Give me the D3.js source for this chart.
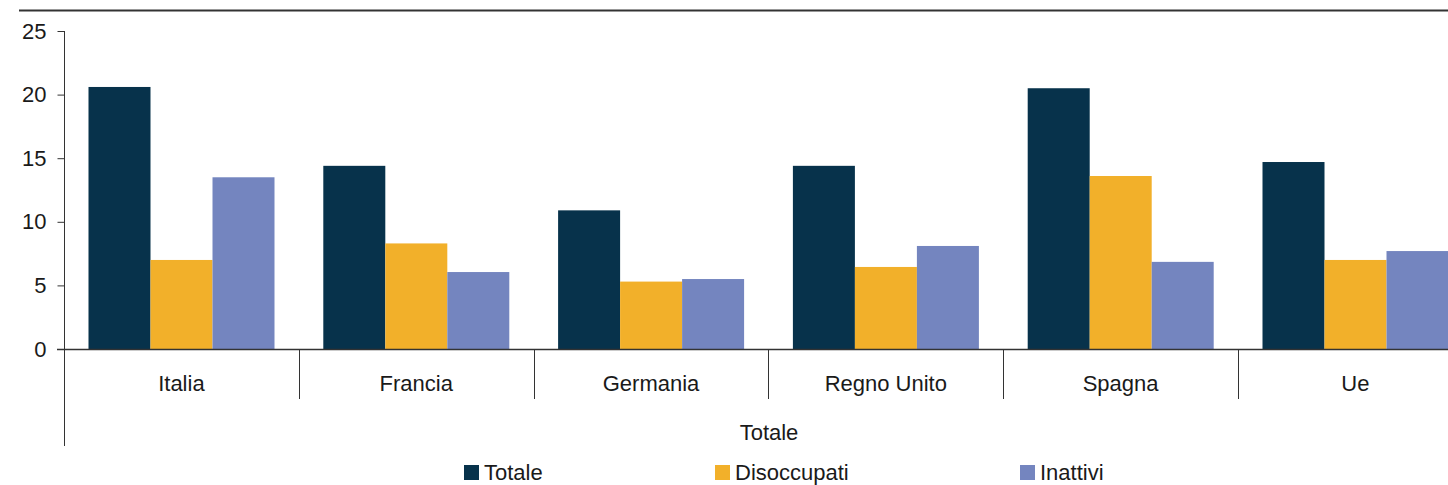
<!DOCTYPE html>
<html>
<head>
<meta charset="utf-8">
<script src="https://cdn.jsdelivr.net/npm/d3@7"></script>
<style>
  body { margin: 0; background: #fff; }
  svg { display: block; font-family: "Liberation Sans", Arial, sans-serif; }
  text { fill: #1a1a1a; }
</style>
</head>
<body>
<svg width="1448" height="485"></svg>
<script>
const countries = ["Italia", "Francia", "Germania", "Regno Unito", "Spagna", "Ue"];
const series = ["Totale", "Disoccupati", "Inattivi"];
const totale = [20.6, 14.4, 10.9, 14.4, 20.5, 14.7];
const disoccupati = [7.0, 8.3, 5.3, 6.45, 13.6, 7.0];
const inattivi = [13.5, 6.05, 5.5, 8.1, 6.85, 7.7];
const yTicks = [0, 5, 10, 15, 20, 25];
const colors = ["#07324B", "#F2B02A", "#7485BF"];

const values = [totale, disoccupati, inattivi];
const data = countries.map((c, i) => ({
  country: c,
  vals: series.map((s, j) => ({ key: s, value: values[j][i] }))
}));

const svg = d3.select("svg");

// top rule
svg.append("line")
  .attr("x1", 19).attr("x2", 1448)
  .attr("y1", 10.5).attr("y2", 10.5)
  .attr("stroke", "#333").attr("stroke-width", 2);

const scaleY = d3.scaleLinear().domain([0, 25]).range([349, 31]);

const scaleX = d3.scaleBand()
  .domain(countries)
  .range([64, 64 + 6 * 234.8])
  .padding(0);

const scaleInner = d3.scaleBand()
  .domain(series)
  .range([24.5, 210.5])
  .padding(0);

// bars
const groups = svg.selectAll("g.country")
  .data(data)
  .enter()
  .append("g")
  .attr("class", "country")
  .attr("transform", d => `translate(${scaleX(d.country)},0)`);

groups.selectAll("rect")
  .data(d => d.vals)
  .enter()
  .append("rect")
  .attr("x", d => scaleInner(d.key))
  .attr("y", d => scaleY(d.value))
  .attr("width", scaleInner.bandwidth())
  .attr("height", d => scaleY(0) - scaleY(d.value))
  .attr("fill", (d, i) => colors[i]);

// y axis
const axisY = d3.axisLeft(scaleY)
  .tickValues(yTicks)
  .tickSizeInner(7)
  .tickSizeOuter(0)
  .tickPadding(11);

const axisYGroup = svg.append("g")
  .attr("transform", "translate(64.5,0)")
  .call(axisY);
axisYGroup.select(".domain").remove();
axisYGroup.selectAll("line").attr("stroke", "#333");
axisYGroup.selectAll("text")
  .attr("font-size", 22)
  .attr("font-family", "Liberation Sans, Arial, sans-serif")
  .attr("fill", "#1a1a1a");

svg.append("line")
  .attr("x1", 64.5).attr("x2", 64.5)
  .attr("y1", 31).attr("y2", 446)
  .attr("stroke", "#333").attr("stroke-width", 1);

// x baseline
svg.append("line")
  .attr("x1", 57).attr("x2", 1448)
  .attr("y1", 349.5).attr("y2", 349.5)
  .attr("stroke", "#333").attr("stroke-width", 1.3);

// group separators
svg.selectAll("line.sep")
  .data(countries.slice(1))
  .enter()
  .append("line")
  .attr("class", "sep")
  .attr("x1", d => Math.round(scaleX(d)) + 0.5)
  .attr("x2", d => Math.round(scaleX(d)) + 0.5)
  .attr("y1", 349)
  .attr("y2", 399)
  .attr("stroke", "#333");

// category labels
svg.selectAll("text.cat")
  .data(countries)
  .enter()
  .append("text")
  .attr("class", "cat")
  .attr("x", d => scaleX(d) + scaleX.bandwidth() / 2)
  .attr("y", 391)
  .attr("text-anchor", "middle")
  .attr("font-size", 22)
  .text(d => d);

// axis title
svg.append("text")
  .attr("x", 769)
  .attr("y", 440)
  .attr("text-anchor", "middle")
  .attr("font-size", 22)
  .text("Totale");

// legend
const legendX = [464, 715, 1020];
const legend = svg.selectAll("g.legend")
  .data(series)
  .enter()
  .append("g")
  .attr("class", "legend")
  .attr("transform", (d, i) => `translate(${legendX[i]},465)`);

legend.append("rect")
  .attr("width", 15)
  .attr("height", 15)
  .attr("fill", (d, i) => colors[i]);

legend.append("text")
  .attr("x", 20)
  .attr("y", 15)
  .attr("font-size", 22)
  .text(d => d);
</script>
</body>
</html>
